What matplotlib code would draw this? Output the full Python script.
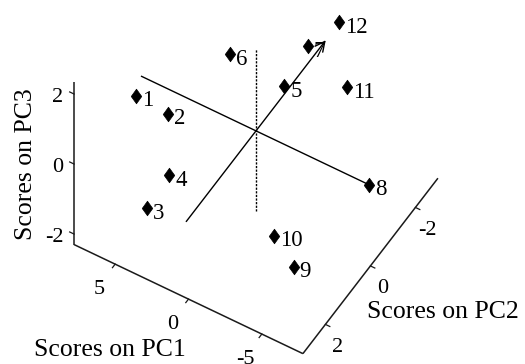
import numpy as np
import matplotlib
matplotlib.use("Agg")
import matplotlib.pyplot as plt
from matplotlib.patches import FancyArrowPatch
from matplotlib.path import Path
from matplotlib.transforms import ScaledTranslation
from mpl_toolkits.mplot3d import proj3d

# ---------------- data ----------------
sample_ids = ["1", "2", "3", "4", "5", "6", "7", "8", "9", "10", "11", "12"]
pc1 = [5.7, 3.7, 3.8, 3.3, -0.1, 2.2, 0.0, -7.7, -4.4, -2.9, -4.2, -2.0]
pc2 = [1.6, 1.5, 2.35, 1.7, -1.2, -0.3, -2.3, 0.0, 1.2, 1.1, -1.3, -2.4]
pc3 = [1.2, 1.0, -1.0, -0.5, 0.3, 1.5, 0.5, 0.0, -2.0, -1.5, 1.0, 1.5]

pc1_lim = (-7.8, 7.8)
pc2_lim = (-3.0, 3.0)
pc3_lim = (-2.3, 2.35)
pc1_ticks = [-5, 0, 5]
pc2_ticks = [-2, 0, 2]
pc3_ticks = [-2, 0, 2]
pc1_line = (7.8, -7.7)      # origin line along PC1
pc2_arrow = (3.1, -3.1)     # origin arrow along PC2
pc3_line = pc3_lim          # dotted origin line along PC3

plt.rcParams["font.family"] = ["Liberation Serif", "DejaVu Serif"]


class Arrow3D(FancyArrowPatch):
    def __init__(self, xs, ys, zs, *args, **kwargs):
        super().__init__((0, 0), (0, 0), *args, **kwargs)
        self._verts3d = xs, ys, zs

    def do_3d_projection(self, renderer=None):
        xs3d, ys3d, zs3d = self._verts3d
        xs, ys, zs = proj3d.proj_transform(xs3d, ys3d, zs3d, self.axes.M)
        self.set_positions((xs[0], ys[0]), (xs[1], ys[1]))
        return np.min(zs)


W, H = 525, 364
fig = plt.figure(figsize=(W / 100, H / 100), dpi=100)
S_full = 443.9          # projected-box scale in pixels
S = 207.0               # axes square kept inside the figure
cx, cy = 256.0, 234.0
half = 0.095 / 0.185 * S
ax = fig.add_axes([(cx - half) / W, (cy - half) / H, S / W, S / H],
                  projection="3d")
ax.set_proj_type("ortho")
ax.view_init(elev=51.9, azim=121.2)
ax.set_xlim(*pc1_lim)
ax.set_ylim(*pc2_lim)
ax.set_zlim(*pc3_lim)
ax.set_box_aspect((267.5, 260.6, 263.8), zoom=S_full / S)
ax.set_xticks([])
ax.set_yticks([])
ax.set_zticks([])
ax.patch.set_alpha(0)
ax.set_axis_off()

M = ax.get_proj()


def proj2d(xs, ys, zs):
    px, py, _ = proj3d.proj_transform(np.asarray(xs, float), np.asarray(ys, float),
                                      np.asarray(zs, float), M)
    return px, py


def off(dx_pt, dy_pt):
    return ax.transData + ScaledTranslation(dx_pt / 72, dy_pt / 72, fig.dpi_scale_trans)


x0, x1 = pc1_lim
y0, y1 = pc2_lim
z0, z1 = pc3_lim
axis_kw = dict(color="#1a1a1a", lw=1.1, solid_capstyle="butt", clip_on=False)
# axis lines (box edges)
ax.plot([x1, x0], [y1, y1], [z0, z0], **axis_kw)   # PC1 axis
ax.plot([x0, x0], [y1, y0], [z0, z0], **axis_kw)   # PC2 axis
ax.plot([x1, x1], [y1, y1], [z0, z1], **axis_kw)   # PC3 axis

# tick marks
tick_kw = dict(color="#1a1a1a", lw=0.9, clip_on=False)
for t in pc1_ticks:
    ax.plot([t, t], [y1, y1 + 0.12], [z0, z0], **tick_kw)
for t in pc2_ticks:
    ax.plot([x0, x0 - 0.3], [t, t], [z0, z0], **tick_kw)
for t in pc3_ticks:
    ax.plot([x1, x1 + 0.3], [y1, y1], [t, t], **tick_kw)

# tick labels
tick_fs = 16
px, py = proj2d(pc1_ticks, [y1] * 3, [z0] * 3)
for t, a, b in zip(pc1_ticks, px, py):
    ax.text2D(a, b, str(t), transform=off(-11.5, -21.5),
              ha="center", va="baseline", fontsize=tick_fs)
px, py = proj2d([x0] * 3, pc2_ticks, [z0] * 3)
for t, a, b in zip(pc2_ticks, px, py):
    ax.text2D(a, b, str(t), transform=off(8.9, -19.8),
              ha="center", va="baseline", fontsize=tick_fs)
px, py = proj2d([x1] * 3, [y1] * 3, pc3_ticks)
for t, a, b in zip(pc3_ticks, px, py):
    ax.text2D(a, b, str(t), transform=off(-7.6, -5.4),
              ha="right", va="baseline", fontsize=tick_fs)

# origin lines
ax.plot(list(pc1_line), [0, 0], [0, 0], color="black", lw=1.0, clip_on=False)
ax.plot([0, 0], [0, 0], list(pc3_line), color="black", lw=1.0,
        ls=(0, (1.6, 1.0)), clip_on=False)
arr = Arrow3D([0, 0], list(pc2_arrow), [0, 0],
              arrowstyle="->,head_length=0.5,head_width=0.25",
              mutation_scale=14, lw=1.0, color="black", shrinkA=0, shrinkB=0,
              clip_on=False)
ax.add_artist(arr)

# markers and sample labels
diamond = Path([(0, 1), (0.72, 0), (0, -1), (-0.72, 0), (0, 1)],
               [Path.MOVETO, Path.LINETO, Path.LINETO, Path.LINETO, Path.CLOSEPOLY])
ax.plot(pc1, pc2, pc3, ls="none", marker=diamond, ms=10.5, color="black",
        mew=0.5, clip_on=False)
px, py = proj2d(pc1, pc2, pc3)
for sid, a, b in zip(sample_ids, px, py):
    ax.text2D(a, b, sid, transform=off(4.3, -7.6), ha="left", va="baseline",
              fontsize=16.5)

lab_fs = 18.5
fig.text(109.5 / W, 8 / H, "Scores on PC1", ha="center", va="baseline", fontsize=lab_fs)
fig.text(443.3 / W, 46 / H, "Scores on PC2", ha="center", va="baseline", fontsize=lab_fs)
fig.text(32 / W, 200 / H, "Scores on PC3", ha="center", va="baseline", fontsize=lab_fs,
         rotation=90, rotation_mode="anchor")

fig.savefig("out.png", dpi=100)
